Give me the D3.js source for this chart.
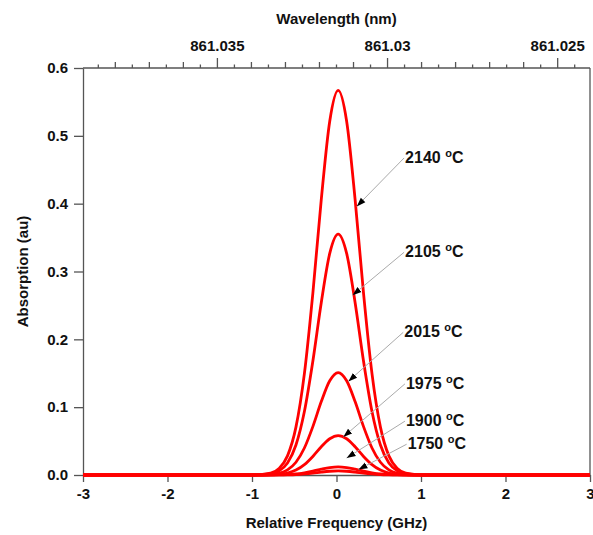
<!DOCTYPE html>
<html>
<head>
<meta charset="utf-8">
<script src="https://cdn.jsdelivr.net/npm/d3@7"></script>
<style>
  body { margin: 0; background: #fff; }
  text { font-family: "Liberation Sans", Arial, sans-serif; font-weight: bold; fill: #111; }
</style>
</head>
<body>
<div id="chart"></div>
<script>
// relative frequency (GHz) sample points
const freq = [-3, -0.98, -0.78, -0.68, -0.58, -0.48, -0.38, -0.28, -0.18, -0.08, 0.02,
              0.12, 0.22, 0.32, 0.42, 0.52, 0.62, 0.72, 0.82, 1.02, 3];

// absorption for each temperature
const abs2140 = [0, 0.0001, 0.0027, 0.0096, 0.0282, 0.0706, 0.1495, 0.2679, 0.4063, 0.5216, 0.567,
                 0.5216, 0.4063, 0.2679, 0.1495, 0.0706, 0.0282, 0.0096, 0.0027, 0.0001, 0];
const abs2105 = [0, 0.0001, 0.0017, 0.0060, 0.0177, 0.0442, 0.0936, 0.1677, 0.2544, 0.3266, 0.355,
                 0.3266, 0.2544, 0.1677, 0.0936, 0.0442, 0.0177, 0.0060, 0.0017, 0.0001, 0];
const abs2015 = [0, 0, 0.0007, 0.0025, 0.0075, 0.0188, 0.0398, 0.0713, 0.1082, 0.1389, 0.151,
                 0.1389, 0.1082, 0.0713, 0.0398, 0.0188, 0.0075, 0.0025, 0.0007, 0, 0];
const abs1975 = [0, 0, 0.0003, 0.0010, 0.0029, 0.0072, 0.0153, 0.0274, 0.0416, 0.0534, 0.058,
                 0.0534, 0.0416, 0.0274, 0.0153, 0.0072, 0.0029, 0.0010, 0.0003, 0, 0];
const abs1900 = [0, 0, 0.0001, 0.0002, 0.0006, 0.0015, 0.0032, 0.0057, 0.0086, 0.0110, 0.012,
                 0.0110, 0.0086, 0.0057, 0.0032, 0.0015, 0.0006, 0.0002, 0.0001, 0, 0];
const abs1750 = [0, 0, 0, 0.0001, 0.0003, 0.0007, 0.0016, 0.0028, 0.0043, 0.0055, 0.006,
                 0.0055, 0.0043, 0.0028, 0.0016, 0.0007, 0.0003, 0.0001, 0, 0, 0];

const series = [abs1750, abs1900, abs1975, abs2015, abs2105, abs2140];

// labels: text position and arrow tip, in data units
const labelText = ["2140", "2105", "2015", "1975", "1900", "1750"];
const labelPos  = [[0.80, 0.460], [0.80, 0.321], [0.79, 0.203], [0.81, 0.127], [0.81, 0.072], [0.83, 0.038]];
const arrowTip  = [[0.24, 0.396], [0.19, 0.265], [0.14, 0.138], [0.08, 0.056], [0.12, 0.025], [0.26, 0.008]];

const xTicks = [-3, -2, -1, 0, 1, 2, 3];
const yTicks = [0, 0.1, 0.2, 0.3, 0.4, 0.5, 0.6];
const wlDomain = [861.03895, 861.02405];
const wlLabels = [861.035, 861.03, 861.025];

const W = 593, H = 535;
const margin = { top: 68, right: 3, bottom: 60, left: 83 };
const width = W - margin.left - margin.right;
const height = H - margin.top - margin.bottom;

const svg = d3.select("#chart").append("svg")
  .attr("width", W)
  .attr("height", H);

const defs = svg.append("defs");
defs.append("marker")
  .attr("id", "arr")
  .attr("viewBox", "0 0 10 10")
  .attr("refX", 10).attr("refY", 5)
  .attr("markerWidth", 9).attr("markerHeight", 9)
  .attr("markerUnits", "userSpaceOnUse")
  .attr("orient", "auto")
  .append("path")
  .attr("d", "M0,1.5 L10,5 L0,8.5 Z")
  .attr("fill", "#000");

const g = svg.append("g")
  .attr("transform", "translate(" + margin.left + "," + margin.top + ")");

const x = d3.scaleLinear().domain([-3, 3]).range([0, width]);
const y = d3.scaleLinear().domain([0, 0.6]).range([height, 0]);
const xw = d3.scaleLinear().domain(wlDomain).range([0, width]);

const axisColor = "#555";

// bottom axis
const gx = g.append("g")
  .attr("transform", "translate(0," + height + ")")
  .call(d3.axisBottom(x).tickValues(xTicks).tickFormat(d => String(d)).tickSize(7).tickPadding(6).tickSizeOuter(0));

// left axis
const gy = g.append("g")
  .call(d3.axisLeft(y).tickValues(yTicks).tickFormat(d3.format(".1f")).tickSize(9).tickPadding(6).tickSizeOuter(0));

// top axis (wavelength), minor ticks every 0.0005 nm
const minor = d3.range(861.0245, 861.0390, 0.0005).map(v => +v.toFixed(4));
const gt = g.append("g");
gt.append("line")
  .attr("x1", 0).attr("x2", width)
  .attr("y1", 0).attr("y2", 0);
gt.selectAll(".wt")
  .data(minor)
  .enter()
  .append("line")
  .attr("class", "wt")
  .attr("x1", d => xw(d)).attr("x2", d => xw(d))
  .attr("y1", 0)
  .attr("y2", function (d) {
    const k = Math.round(d * 10000) % 50;
    if (k === 0) return -10;
    if (k % 10 === 0) return -6;
    return -3.5;
  });
gt.selectAll(".wl")
  .data(wlLabels)
  .enter()
  .append("text")
  .attr("class", "wl")
  .attr("x", d => xw(d))
  .attr("y", -17)
  .attr("text-anchor", "middle")
  .style("font-size", "15px")
  .text(d => d);

// right frame
g.append("line")
  .attr("class", "frame")
  .attr("x1", width).attr("x2", width)
  .attr("y1", 0).attr("y2", height);

[gx, gy].forEach(a => {
  a.selectAll("text").style("font-size", "15px").style("fill", "#111")
    .style("font-family", "Liberation Sans, Arial, sans-serif").style("font-weight", "bold");
  a.select(".domain").attr("stroke", axisColor).attr("stroke-width", 1.3);
  a.selectAll(".tick line").attr("stroke", axisColor).attr("stroke-width", 1.3);
});
gt.selectAll("line").attr("stroke", axisColor).attr("stroke-width", 1.3);
g.select(".frame").attr("stroke", axisColor).attr("stroke-width", 1.3);

// curves
const line = d3.line()
  .x((d, i) => x(freq[i]))
  .y(d => y(d))
  .curve(d3.curveMonotoneX);

g.selectAll(".curve")
  .data(series)
  .enter()
  .append("path")
  .attr("class", "curve")
  .attr("d", line)
  .attr("fill", "none")
  .attr("stroke", "#ff0000")
  .attr("stroke-width", 2.8);

// annotations
labelText.forEach(function (t, i) {
  const tx = x(labelPos[i][0]), ty = y(labelPos[i][1]);
  g.append("line")
    .attr("x1", tx).attr("y1", ty - 5)
    .attr("x2", x(arrowTip[i][0])).attr("y2", y(arrowTip[i][1]))
    .attr("stroke", "#aaa")
    .attr("stroke-width", 1)
    .attr("marker-end", "url(#arr)");
  const lab = g.append("text")
    .attr("x", tx + 1).attr("y", ty)
    .style("font-size", "16px");
  lab.append("tspan").text(t + " ");
  lab.append("tspan").attr("dy", -6).style("font-size", "11px").text("o");
  lab.append("tspan").attr("dy", 6).text("C");
});

// axis titles
svg.append("text")
  .attr("x", margin.left + x(0))
  .attr("y", 528)
  .attr("text-anchor", "middle")
  .style("font-size", "15px")
  .text("Relative Frequency (GHz)");

svg.append("text")
  .attr("x", margin.left + x(0))
  .attr("y", 24)
  .attr("text-anchor", "middle")
  .style("font-size", "15px")
  .text("Wavelength (nm)");

svg.append("text")
  .attr("transform", "rotate(-90)")
  .attr("x", -(margin.top + height / 2))
  .attr("y", 28)
  .attr("text-anchor", "middle")
  .style("font-size", "15px")
  .text("Absorption (au)");
</script>
</body>
</html>
